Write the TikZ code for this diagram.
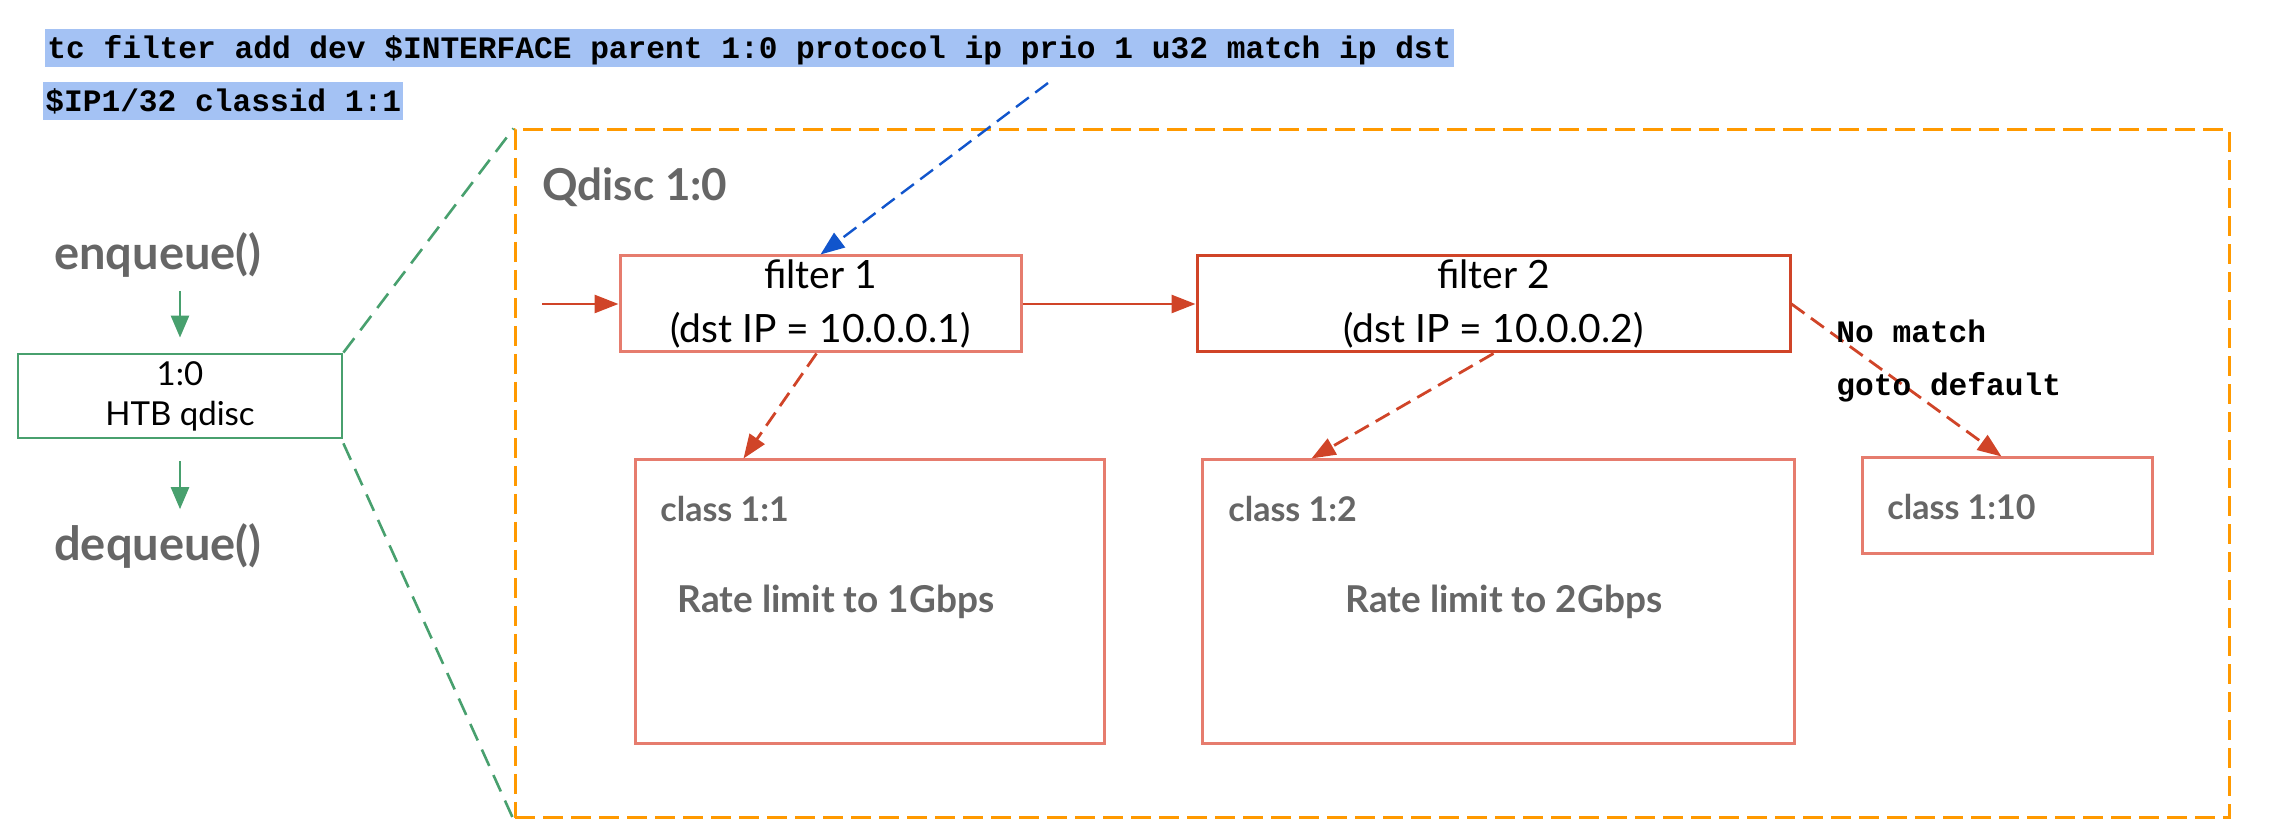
\documentclass[tikz,border=0pt]{standalone}
\usepackage{fontspec}
\setmainfont{Lato}
\newfontfamily\codefont{Liberation Mono}
\usetikzlibrary{arrows.meta,calc}
\definecolor{hl}{RGB}{164,194,244}
\definecolor{grn}{RGB}{72,160,110}
\definecolor{salmon}{RGB}{230,124,110}
\definecolor{redd}{RGB}{208,68,40}
\definecolor{orng}{RGB}{255,153,0}
\definecolor{bluea}{RGB}{17,85,204}
\definecolor{gtxt}{RGB}{102,102,102}
\tikzset{
  cmd/.style={anchor=base west, fill=hl, inner xsep=1pt, inner ysep=0pt, text height=15pt, text depth=4pt, font=\codefont\bfseries\fontsize{15.6}{18}\selectfont},
  nomatch/.style={anchor=base west, inner sep=0pt, font=\codefont\bfseries\fontsize{15.6}{18}\selectfont},
  gbig/.style={inner sep=0pt, text=gtxt, font=\bfseries\fontsize{23.5}{27}\selectfont},
  gq/.style={inner sep=0pt, text=gtxt, font=\bfseries\fontsize{22}{26}\selectfont},
  gmid/.style={inner sep=0pt, text=gtxt, font=\bfseries\fontsize{18.5}{22}\selectfont},
  gsmall/.style={inner sep=0pt, text=gtxt, font=\bfseries\fontsize{17}{20}\selectfont},
  htbbox/.style={draw=grn, line width=1.4pt, minimum width=162pt, minimum height=42pt, inner sep=0pt, align=center, font=\fontsize{16.5}{20}\selectfont},
  filtbox/.style={line width=1.5pt, minimum height=48pt, inner sep=0pt, align=center, font=\fontsize{19.5}{27}\selectfont},
  classbox/.style={draw=salmon, line width=1.5pt, inner sep=0pt},
  garrow/.style={draw=grn, line width=1.3pt, -{Triangle[length=11pt,width=9pt]}},
  rarrow/.style={draw=redd, line width=1.4pt, -{Triangle[length=12pt,width=9pt]}},
  rdash/.style={rarrow, dash pattern=on 8pt off 4pt},
  barrow/.style={draw=bluea, line width=1.2pt, dash pattern=on 8pt off 4pt, -{Triangle[length=12pt,width=9pt]}},
  gdash/.style={draw=grn, line width=1.3pt, dash pattern=on 9pt off 5pt},
  frame/.style={draw=orng, line width=1.5pt, dash pattern=on 10pt off 4pt},
}
\begin{document}
\begin{tikzpicture}[x=0.5pt,y=-0.5pt]
\useasboundingbox (0,0) rectangle (2288,838);

% command text
\node[cmd] (cmd1) at (45,59) {tc filter add dev \$INTERFACE parent 1:0 protocol ip prio 1 u32 match ip dst};
\node[cmd] (cmd2) at (43,112) {\$IP1/32 classid 1:1};

% qdisc frame
\node[frame, minimum width=857pt, minimum height=344pt, inner sep=0pt] (qf) at (1372,474) {};
\node[gq, anchor=west] (qlab) at (542,187) {Qdisc 1:0};

% left side
\node[gbig] (enq) at (158,255) {enqueue()};
\node[htbbox] (htb) at (180,396) {1:0\\HTB qdisc};
\node[gbig] (deq) at (158,546) {dequeue()};
\draw[garrow, shorten <=6.5pt, shorten >=7.5pt] (enq.south -| htb.north) -- (htb.north);
\draw[garrow, shorten <=11pt, shorten >=7pt] (htb.south) -- (deq.north -| htb.south);
\draw[gdash] (htb.north east) -- (qf.north west);
\draw[gdash] ([yshift=-2pt]htb.south east) -- (qf.south west);

% filters
\node[filtbox, draw=salmon, minimum width=200.5pt] (f1) at (820.5,304) {filter 1\\(dst IP = 10.0.0.1)};
\node[filtbox, draw=redd, minimum width=296.5pt] (f2) at (1493.5,304) {filter 2\\(dst IP = 10.0.0.2)};

% classes
\node[classbox, minimum width=234.5pt, minimum height=142pt] (c11) at (869.5,602) {};
\node[classbox, minimum width=296pt, minimum height=142pt] (c12) at (1498,602) {};
\node[classbox, minimum width=145pt, minimum height=48pt] (c110) at (2007,506) {};
\node[gsmall, anchor=west] (c11t) at (660,509) {class 1:1};
\node[gmid] (c11r) at (836,602) {Rate limit to 1Gbps};
\node[gsmall, anchor=west] (c12t) at (1228,509) {class 1:2};
\node[gmid] (c12r) at (1504,602) {Rate limit to 2Gbps};
\node[gsmall, anchor=west] (c110t) at (1887,507) {class 1:10};

% connectors
\coordinate (inpt) at (542,304);
\draw[rarrow] (inpt) -- (f1.west);
\draw[rarrow] (f1.east) -- (f2.west);
\draw[rdash] ([xshift=-2pt]f1.south) -- ($(c11.north west)+(110,0)$);
\draw[rdash] (f2.south) -- ($(c12.north west)+(111,0)$);
\draw[rdash] (f2.east) -- ($(c110.north west)+(141,0)$);
\coordinate (bstart) at (1048,83);
\draw[barrow] (bstart) -- (f1.north);

\node[nomatch] (nm1) at (1836,343) {No match};
\node[nomatch] (nm2) at (1836,396) {goto default};
\end{tikzpicture}
\end{document}
